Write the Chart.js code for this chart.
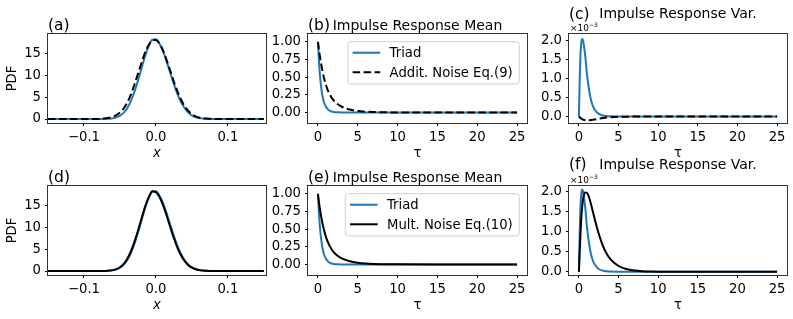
<!DOCTYPE html>
<html>
<head>
<meta charset="utf-8">
<script src="https://cdn.jsdelivr.net/npm/chart.js@4.4.1/dist/chart.umd.min.js"></script>
<style>
  body { margin: 0; background: #fff; }
  #fig { position: relative; width: 793px; height: 319px; overflow: hidden; }
  #fig canvas { position: absolute; }
</style>
</head>
<body>
<div id="fig">
  <canvas id="pa"></canvas>
  <canvas id="pb"></canvas>
  <canvas id="pc"></canvas>
  <canvas id="pd"></canvas>
  <canvas id="pe"></canvas>
  <canvas id="pf"></canvas>
</div>
<script>
// ================== DATA ==================
const pdfX = [-0.15, -0.1, -0.09, -0.08, -0.075, -0.07, -0.065, -0.06, -0.055, -0.05, -0.045, -0.04,
  -0.035, -0.03, -0.025, -0.02, -0.015, -0.01, -0.005, 0, 0.005, 0.01, 0.015, 0.02, 0.025, 0.03,
  0.035, 0.04, 0.045, 0.05, 0.055, 0.06, 0.065, 0.07, 0.075, 0.08, 0.09, 0.1, 0.15];
const pdfTriad = [0, 0, 0, 0, 0.005, 0.03, 0.08, 0.17, 0.37, 0.75, 1.41, 2.46,
  4.03, 6.14, 8.75, 11.6, 14.4, 16.7, 18.1, 18.2, 17.2, 15.45, 13.1, 10.5, 7.96, 5.7,
  3.86, 2.46, 1.49, 0.85, 0.46, 0.23, 0.11, 0.05, 0.02, 0.01, 0, 0, 0];
const pdfAddit = [0, 0.002, 0.01, 0.04, 0.09, 0.17, 0.3, 0.52, 0.9, 1.5, 2.4, 3.7,
  5.5, 7.8, 10.3, 12.8, 15.2, 16.9, 17.9, 18.05, 17.2, 15.6, 13.4, 11.0, 8.5, 6.3,
  4.4, 2.9, 1.85, 1.1, 0.63, 0.34, 0.18, 0.1, 0.06, 0.03, 0.01, 0, 0];
const pdfMult = [0, 0, 0, 0.005, 0.01, 0.04, 0.1, 0.21, 0.45, 0.88, 1.6, 2.75,
  4.4, 6.6, 9.2, 12.0, 14.7, 16.8, 18.2, 18.0, 16.9, 15.0, 12.6, 10.0, 7.5, 5.3,
  3.55, 2.25, 1.35, 0.77, 0.42, 0.21, 0.1, 0.05, 0.02, 0.01, 0, 0, 0];

const meanTau = [0, 0.1, 0.2, 0.3, 0.4, 0.5, 0.6, 0.8, 1, 1.25, 1.5, 2, 2.5, 3, 4, 5, 6, 7, 8, 10, 15, 20, 25];
const meanTriad = [1, 0.77, 0.6, 0.46, 0.36, 0.28, 0.215, 0.13, 0.08, 0.043, 0.022, 0.006, 0.002, 0,
  0, 0, 0, 0, 0, 0, 0, 0, 0];
const meanAddit = [1, 0.91, 0.83, 0.755, 0.69, 0.625, 0.57, 0.47, 0.39, 0.31, 0.25, 0.165, 0.115, 0.08,
  0.04, 0.02, 0.01, 0.005, 0.002, 0, 0, 0, 0];
const meanMult = [1, 0.905, 0.82, 0.745, 0.68, 0.62, 0.565, 0.47, 0.39, 0.315, 0.255, 0.17, 0.12, 0.085,
  0.045, 0.024, 0.012, 0.006, 0.003, 0.001, 0, 0, 0];

// variances in units of 1e-3
const varTau = [0, 0.1, 0.2, 0.3, 0.4, 0.5, 0.6, 0.8, 1, 1.2, 1.4, 1.6, 1.8, 2, 2.5, 3, 3.5, 4, 5, 6, 7, 8, 9, 10, 12, 15, 20, 25];
const varTriad = [0, 1.0, 1.65, 1.95, 2.05, 2.02, 1.92, 1.6, 1.15, 0.82, 0.56, 0.38, 0.26, 0.18, 0.07, 0.03,
  0.012, 0.005, 0.001, 0, 0, 0, 0, 0, 0, 0, 0, 0];
const varAddit = [0, -0.02, -0.04, -0.055, -0.067, -0.077, -0.085, -0.095, -0.1, -0.1, -0.097, -0.09, -0.083,
  -0.075, -0.057, -0.04, -0.027, -0.018, -0.007, -0.003, -0.001, 0, 0, 0, 0, 0, 0, 0];
const varMult = [0, 0.5, 0.95, 1.33, 1.6, 1.78, 1.89, 1.98, 1.97, 1.9, 1.78, 1.63, 1.47, 1.31, 0.95, 0.66,
  0.45, 0.31, 0.145, 0.068, 0.032, 0.015, 0.007, 0.003, 0.001, 0, 0, 0];

const BLUE = '#1f77b4';
const FONT = 'DejaVu Sans';
const DASH = [7.5, 3.5];

// ================== HELPERS ==================
function fmt(v, d) {
  return v.toFixed(d).replace('-', '\u2212');
}

function line(label, xs, ys, color, dash, order) {
  return {
    label,
    data: xs.map((x, i) => ({ x, y: ys[i] })),
    borderColor: color,
    borderWidth: 2,
    borderDash: dash || [],
    pointRadius: 0,
    cubicInterpolationMode: 'monotone',
    fill: false,
    order
  };
}

// frame, titles, offset text and legend
const panelText = {
  id: 'panelText',
  afterDraw(chart, args, o) {
    const { ctx, chartArea: a } = chart;
    ctx.save();
    ctx.strokeStyle = '#333';
    ctx.lineWidth = 1;
    ctx.strokeRect(a.left - 0.5, a.top - 0.5, a.width + 1, a.height + 1);

    ctx.fillStyle = '#000';
    ctx.textBaseline = 'alphabetic';
    ctx.textAlign = 'left';
    ctx.font = '15.5px "' + FONT + '"';
    ctx.fillText(o.letter, a.left, a.top - o.gap);
    if (o.title) {
      ctx.font = '14px "' + FONT + '"';
      ctx.textAlign = 'center';
      ctx.fillText(o.title, (a.left + a.right) / 2, a.top - o.gap - 0.5);
    }

    if (o.scaled) {
      ctx.textAlign = 'left';
      ctx.font = '9px "' + FONT + '"';
      ctx.fillText('\u00d710', a.left + 1, a.top - 3);
      const w = ctx.measureText('\u00d710').width;
      ctx.font = '6px "' + FONT + '"';
      ctx.fillText('\u22123', a.left + 1 + w, a.top - 7);
    }

    if (o.legend) {
      const ds = chart.data.datasets;
      ctx.font = '13.2px "' + FONT + '"';
      const tw = Math.max(...ds.map(d => ctx.measureText(d.label).width));
      const bw = 4.7 + 27.6 + 9.4 + tw + 6.6, bh = 42.3;
      const bx = a.right - 7.7 - bw, by = a.top + 7.7, r = 3;
      ctx.beginPath();
      ctx.moveTo(bx + r, by);
      ctx.arcTo(bx + bw, by, bx + bw, by + bh, r);
      ctx.arcTo(bx + bw, by + bh, bx, by + bh, r);
      ctx.arcTo(bx, by + bh, bx, by, r);
      ctx.arcTo(bx, by, bx + bw, by, r);
      ctx.closePath();
      ctx.fillStyle = 'rgba(255,255,255,0.8)';
      ctx.fill();
      ctx.strokeStyle = '#d0d0d0';
      ctx.stroke();

      ds.forEach((d, i) => {
        const y = by + 11 + i * 19.6;
        ctx.beginPath();
        ctx.setLineDash(d.borderDash);
        ctx.strokeStyle = d.borderColor;
        ctx.lineWidth = 2;
        ctx.moveTo(bx + 4.7, y);
        ctx.lineTo(bx + 32.3, y);
        ctx.stroke();
        ctx.setLineDash([]);
        ctx.fillStyle = '#000';
        ctx.textAlign = 'left';
        ctx.textBaseline = 'middle';
        ctx.fillText(d.label, bx + 41.7, y + 1);
      });
    }
    ctx.restore();
  }
};

function axis(min, max, step, digits, title) {
  return {
    type: 'linear',
    min, max,
    ticks: {
      stepSize: step,
      includeBounds: false,
      autoSkip: false,
      maxRotation: 0,
      padding: 4,
      color: '#000',
      font: { family: FONT, size: 13.2 },
      callback: v => fmt(v, digits)
    },
    grid: { display: true, drawOnChartArea: false, drawTicks: true, tickLength: 3, color: '#000' },
    border: { display: false },
    title: title
  };
}

function panel(id, box, datasets, xs, ys, text) {
  const cv = document.getElementById(id);
  cv.width = box.w + 54;
  cv.height = box.h + 72;
  cv.style.left = (box.left - 48) + 'px';
  cv.style.top = (box.top - 34) + 'px';

  xs.afterFit = s => { s.height = 38; };
  ys.afterFit = s => { s.width = 48; };

  new Chart(cv, {
    type: 'line',
    data: { datasets },
    options: {
      responsive: false,
      animation: false,
      events: [],
      layout: { padding: { top: 34, right: 6, left: 0, bottom: 0 } },
      plugins: {
        legend: { display: false },
        tooltip: { enabled: false },
        panelText: text
      },
      scales: { x: xs, y: ys }
    },
    plugins: [panelText]
  });
}

const xTitle = { display: true, text: 'x', color: '#000', padding: 0, font: { family: FONT, size: 13.2, style: 'italic' } };
const tauTitle = { display: true, text: '\u03c4', color: '#000', padding: 0, font: { family: FONT, size: 13.2 } };
const pdfTitle = { display: true, text: 'PDF', color: '#000', padding: { top: 5, bottom: 0 }, font: { family: FONT, size: 13.2 } };
const noTitle = { display: false };

// ================== PANELS ==================
panel('pa', { left: 48, top: 34, w: 218, h: 89 },
  [line('Triad', pdfX, pdfTriad, BLUE, null, 2), line('Addit. Noise Eq.(9)', pdfX, pdfAddit, '#000', DASH, 1)],
  axis(-0.15, 0.153, 0.1, 1, xTitle), axis(-0.9, 19.4, 5, 0, pdfTitle),
  { letter: '(a)', gap: 4 });

panel('pb', { left: 308, top: 34, w: 219, h: 89 },
  [line('Triad', meanTau, meanTriad, BLUE, null, 2), line('Addit. Noise Eq.(9)', meanTau, meanAddit, '#000', DASH, 1)],
  axis(-1.25, 26.25, 5, 0, tauTitle), axis(-0.15, 1.11, 0.25, 2, noTitle),
  { letter: '(b)', title: 'Impulse Response Mean', gap: 4, legend: true });

panel('pc', { left: 569, top: 34, w: 218, h: 89 },
  [line('Triad', varTau, varTriad, BLUE, null, 2), line('Addit. Noise Eq.(9)', varTau, varAddit, '#000', DASH, 1)],
  axis(-1.25, 26.25, 5, 0, tauTitle), axis(-0.17, 2.18, 0.5, 1, noTitle),
  { letter: '(c)', title: 'Impulse Response Var.', gap: 15.5, scaled: true });

panel('pd', { left: 48, top: 186, w: 218, h: 89 },
  [line('Triad', pdfX, pdfTriad, BLUE, null, 2), line('Mult. Noise Eq.(10)', pdfX, pdfMult, '#000', null, 1)],
  axis(-0.15, 0.153, 0.1, 1, xTitle), axis(-0.9, 19.4, 5, 0, pdfTitle),
  { letter: '(d)', gap: 4 });

panel('pe', { left: 308, top: 186, w: 219, h: 89 },
  [line('Triad', meanTau, meanTriad, BLUE, null, 2), line('Mult. Noise Eq.(10)', meanTau, meanMult, '#000', null, 1)],
  axis(-1.25, 26.25, 5, 0, tauTitle), axis(-0.15, 1.11, 0.25, 2, noTitle),
  { letter: '(e)', title: 'Impulse Response Mean', gap: 4, legend: true });

panel('pf', { left: 569, top: 186, w: 218, h: 89 },
  [line('Triad', varTau, varTriad, BLUE, null, 2), line('Mult. Noise Eq.(10)', varTau, varMult, '#000', null, 1)],
  axis(-1.25, 26.25, 5, 0, tauTitle), axis(-0.08, 2.14, 0.5, 1, noTitle),
  { letter: '(f)', title: 'Impulse Response Var.', gap: 17, scaled: true });
</script>
</body>
</html>
